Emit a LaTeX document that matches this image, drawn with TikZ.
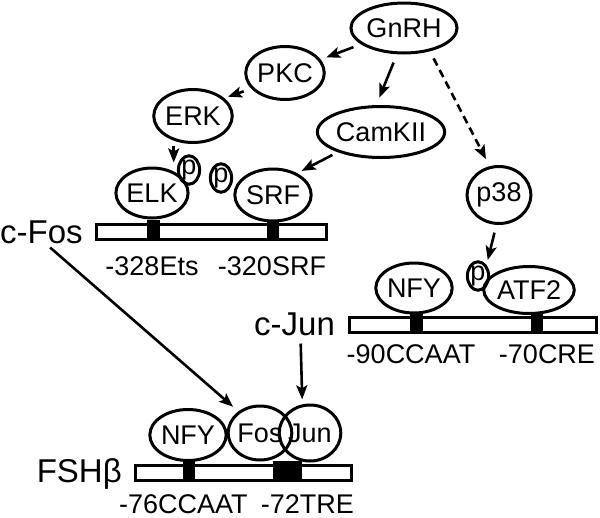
\documentclass[tikz,border=0pt]{standalone}
\usepackage{fontspec}
\setmainfont{Liberation Sans}
\usepackage{tikz}
\usetikzlibrary{shapes.geometric}
\usetikzlibrary{arrows.meta}

\begin{document}
\begin{tikzpicture}[x=1pt, y=-1pt,
  prot/.style={ellipse, draw, line width=3pt, inner sep=0pt, font=\fontsize{27}{31}\selectfont},
  bar/.style={draw, fill=white, line width=3pt, minimum height=15pt, inner sep=0pt},
  gene/.style={font=\fontsize{33}{38}\selectfont, inner sep=2pt},
  site/.style={font=\fontsize{27}{31}\selectfont, inner sep=0pt},
  arr/.style={line width=2.6pt, -{Stealth[length=14pt, width=11pt, inset=3pt]}}]

\useasboundingbox (0,0) rectangle (600,517);

% signalling
\node[prot, minimum width=87pt, minimum height=50pt] (GnRH) at (404,28) {GnRH};
\node[prot, minimum width=74pt, minimum height=53pt] (PKC) at (285,73) {PKC};
\node[prot, minimum width=73pt, minimum height=53pt] (ERK) at (193,116) {ERK};
\node[prot, minimum width=111pt, minimum height=51pt] (CamKII) at (381,132) {CamKII};
\node[prot, minimum width=59pt, minimum height=57pt] (p38) at (499,195) {p38};

% c-Fos promoter
\node[bar, minimum width=230pt] (fosbar) at (211.5,232) {};
\fill (147,220) rectangle (160,241);
\fill (267,220) rectangle (279,241);
\node[prot, minimum width=68pt, minimum height=50pt] (ELK) at (152,193) {ELK};
\node[prot, minimum width=75pt, minimum height=52pt] (SRF) at (273,195) {SRF};
\node[prot, minimum width=20pt, minimum height=27pt] (pE) at (189,170) {p};
\node[prot, minimum width=20pt, minimum height=27pt] (pS) at (221,178) {p};
\node[gene, anchor=base west] (cFos) at (-2,243) {c-Fos};
\node[site, anchor=base] (ets) at (152,275) {-328Ets};
\node[site, anchor=base] (srfsite) at (272,275) {-320SRF};

% c-Jun promoter
\node[bar, minimum width=247pt] (junbar) at (473,324.5) {};
\fill (410,313) rectangle (423,333);
\fill (531,313) rectangle (543,333);
\node[prot, minimum width=65pt, minimum height=50pt] (NFYa) at (414,288) {NFY};
\node[prot, minimum width=75pt, minimum height=47pt] (ATF2) at (529,290) {ATF2};
\node[prot, minimum width=19pt, minimum height=23pt] (pA) at (478,276) {p};
\node[gene, anchor=base west] (cJun) at (252,335) {c-Jun};
\node[site, anchor=base] (ccaata) at (411,363) {-90CCAAT};
\node[site, anchor=base] (cre) at (547,363) {-70CRE};

% FSHb promoter
\node[bar, minimum width=216pt] (fshbar) at (243.5,473) {};
\fill (183,461) rectangle (195,482);
\fill (273,461) rectangle (302,482);
\node[prot, minimum width=67pt, minimum height=51pt] (NFYb) at (188,435) {NFY};
\node[prot, minimum width=50pt, minimum height=54pt] (Fos) at (260,433) {Fos};
\node[prot, minimum width=48pt, minimum height=56pt] (Jun) at (310,433) {Jun};
\node[gene, anchor=base east] (FSHb) at (124,482) {FSHβ};
\node[site, anchor=base west] (ccaatb) at (119,513) {-76CCAAT};
\node[site, anchor=base east] (tre) at (354,513) {-72TRE};

% arrows
\draw[arr, shorten <=8pt, shorten >=6pt] (GnRH) -- (PKC);
\draw[arr, shorten <=9pt, shorten >=8pt] (GnRH.255) -- (CamKII.100);
\draw[arr, dash pattern=on 8pt off 5pt, shorten <=8pt, shorten >=8pt] (GnRH.318) -- (p38.108);
\draw[arr, shorten <=8pt, shorten >=4pt] (PKC.205) -- (ERK.30);
\draw[arr, shorten <=5pt, shorten >=4pt] (ERK.232) -- (ERK.232 |- ELK.north);
\draw[arr, shorten <=6pt, shorten >=5pt] (CamKII.205) -- (SRF.42);
\draw[arr, shorten <=8pt, shorten >=5pt] (p38.265) -- (pA.north east);
\draw[arr, shorten <=3pt, shorten >=7pt] (cFos.-65) -- (Fos.135);
\draw[arr, shorten <=6pt, shorten >=5pt] ([xshift=6pt]cJun.south) -- (Jun.105);

\end{tikzpicture}
\end{document}
